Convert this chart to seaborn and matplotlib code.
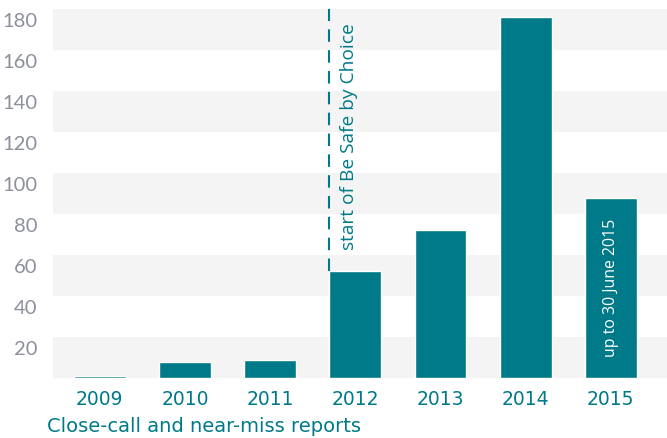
import matplotlib
matplotlib.use("Agg")
import matplotlib.pyplot as plt
import matplotlib.transforms as mtransforms
import seaborn as sns
import pandas as pd

years = ["2009", "2010", "2011", "2012", "2013", "2014", "2015"]
reports = [1, 8, 9, 52, 72, 176, 88]
y_ticks = [20, 40, 60, 80, 100, 120, 140, 160, 180]
title = "Close-call and near-miss reports"
note_start = "start of Be Safe by Choice"
note_2015 = "up to 30 June 2015"

teal = "#007a88"
band = "#f4f4f4"
grey = "#8b909a"

sns.set_theme(style="white")
plt.rcParams["font.family"] = ["DejaVu Sans"]

df = pd.DataFrame({"year": years, "reports": reports})

fig = plt.figure(figsize=(6.67, 4.39), dpi=100)
ax = fig.add_axes([53 / 667, 1 - 379 / 439, 1 - 53 / 667, 369 / 439])

for lo in range(0, 180, 40):
    ax.axhspan(lo, lo + 20, color=band, zorder=0, lw=0)

sns.barplot(data=df, x="year", y="reports", color=teal, saturation=1,
            width=0.61, ax=ax, zorder=2)

ax.set_xlim(-0.55, 6.66)
ax.set_ylim(0, 180)
for s in ax.spines.values():
    s.set_visible(False)

ax.set_xlabel("")
ax.set_ylabel("")
ax.set_yticks(y_ticks)
ax.set_yticklabels([str(v) for v in y_ticks], family="Lato", fontsize=14.5, color=grey)
ax.tick_params(axis="y", length=0, pad=11)
ax.tick_params(axis="x", length=0, pad=8)
for lab in ax.get_xticklabels():
    lab.set_fontsize(13.5)
    lab.set_color(teal)
offset = mtransforms.ScaledTranslation(0, -3 / 100, fig.dpi_scale_trans)
for lab in ax.get_yticklabels():
    lab.set_va("top")
    lab.set_transform(lab.get_transform() + offset)

# dashed marker at start of programme
x_line = 3 - 0.305
ax.plot([x_line, x_line], [reports[3], 180], color=teal, lw=1.5,
        ls=(0, (6, 4)), zorder=3)
ax.text(2.93, 63, note_start, rotation=90, ha="center", va="bottom",
        family="Open Sans", fontsize=13.8, color=teal, zorder=4)
ax.text(6, 10.5, note_2015, rotation=90, ha="center", va="bottom",
        family="Open Sans", fontsize=11.4, color="white", zorder=4)

fig.text(47 / 667, 1 - 427 / 439, title, ha="left", va="center",
         fontsize=14, color=teal)

fig.savefig("out.png", dpi=100)
